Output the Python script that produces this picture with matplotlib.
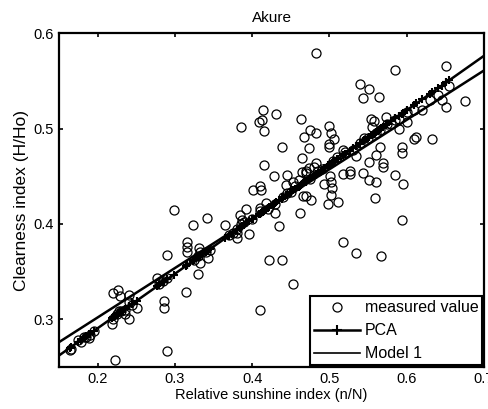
import numpy as np
import matplotlib
matplotlib.use("Agg")
import matplotlib.pyplot as plt
from matplotlib.lines import Line2D

plt.rcParams['font.family'] = ['Liberation Sans', 'DejaVu Sans']

# measured values scattered away from the fitted lines
sun_off = [0.4827, 0.651, 0.585, 0.539, 0.5515, 0.543, 0.5645, 0.676, 0.645, 0.651,
           0.414, 0.431, 0.413, 0.409, 0.386, 0.4147, 0.4636, 0.499, 0.475, 0.482,
           0.5017, 0.4675, 0.5065, 0.500, 0.4996, 0.5537, 0.557, 0.555, 0.573, 0.585,
           0.6004, 0.5896, 0.594, 0.594, 0.595, 0.594, 0.609, 0.6126, 0.633, 0.585,
           0.565, 0.5597, 0.5693, 0.5697, 0.5506, 0.5429, 0.5515, 0.5597, 0.5584, 0.526,
           0.526, 0.518, 0.518, 0.534, 0.5104, 0.4987, 0.502, 0.503, 0.5017, 0.5009,
           0.4935, 0.518, 0.5346, 0.567, 0.4532, 0.41, 0.438, 0.4217, 0.4346, 0.4619,
           0.428, 0.439, 0.4147, 0.4645, 0.474, 0.482, 0.476, 0.466, 0.469, 0.473,
           0.469, 0.464, 0.4532, 0.4446, 0.4437, 0.4013, 0.41, 0.4108, 0.4177, 0.4299,
           0.4095, 0.3926, 0.3848, 0.3874, 0.3961, 0.3805, 0.3797, 0.365, 0.3416, 0.2983,
           0.3238, 0.3156, 0.3156, 0.3156, 0.3312, 0.332, 0.3429, 0.332, 0.3303, 0.3147,
           0.29, 0.277, 0.2857, 0.2857, 0.29, 0.2225, 0.22, 0.2268, 0.229, 0.2403,
           0.2411, 0.2506, 0.2182, 0.2355, 0.2281, 0.189, 0.1827, 0.164]
clear_off = [0.579, 0.566, 0.5615, 0.5465, 0.542, 0.532, 0.533, 0.529, 0.530, 0.523,
             0.519, 0.5154, 0.509, 0.507, 0.502, 0.4976, 0.5098, 0.5024, 0.4986, 0.4958,
             0.495, 0.4913, 0.4888, 0.4839, 0.4804, 0.5105, 0.5084, 0.502, 0.5126, 0.509,
             0.5073, 0.4993, 0.481, 0.4748, 0.442, 0.4035, 0.4888, 0.491, 0.4888, 0.4517,
             0.481, 0.4727, 0.4636, 0.4601, 0.4654, 0.4538, 0.4458, 0.4444, 0.4276, 0.4556,
             0.452, 0.4524, 0.477, 0.4713, 0.4234, 0.421, 0.430, 0.4374, 0.444, 0.4497,
             0.442, 0.3811, 0.3692, 0.3657, 0.337, 0.3098, 0.3622, 0.3622, 0.3972, 0.4112,
             0.4497, 0.481, 0.4619, 0.4696, 0.4794, 0.4636, 0.4252, 0.4287, 0.4287, 0.4587,
             0.4531, 0.4549, 0.4444, 0.4514, 0.4409, 0.4357, 0.4392, 0.4357, 0.4217, 0.4112,
             0.4171, 0.4154, 0.4094, 0.4042, 0.3895, 0.385, 0.3902, 0.3986, 0.4059, 0.414,
             0.3986, 0.3808, 0.3755, 0.3703, 0.3745, 0.370, 0.364, 0.3587, 0.3476, 0.328,
             0.3675, 0.343, 0.3185, 0.3115, 0.2661, 0.2566, 0.3273, 0.3308, 0.3245, 0.3255,
             0.300, 0.3115, 0.2951, 0.3052, 0.308, 0.280, 0.2808, 0.2671]

# measured values lying on / close to the fitted lines
sun_on = [0.165, 0.175, 0.178, 0.185, 0.19, 0.195, 0.22, 0.225, 0.23, 0.235,
          0.24, 0.245, 0.28, 0.285, 0.29, 0.325, 0.33, 0.34, 0.345, 0.37,
          0.375, 0.38, 0.385, 0.39, 0.40, 0.41, 0.42, 0.43, 0.44, 0.445,
          0.45, 0.455, 0.46, 0.47, 0.475, 0.48, 0.485, 0.49, 0.505, 0.51,
          0.52, 0.53, 0.54, 0.545, 0.55, 0.56, 0.565, 0.575, 0.58, 0.59,
          0.60, 0.61, 0.62, 0.63, 0.64, 0.655]
clear_on = [0.269, 0.278, 0.276, 0.281, 0.283, 0.287, 0.300, 0.305, 0.308, 0.310,
            0.318, 0.315, 0.337, 0.340, 0.343, 0.362, 0.366, 0.370, 0.373, 0.388,
            0.390, 0.395, 0.400, 0.402, 0.405, 0.413, 0.416, 0.421, 0.428, 0.432,
            0.433, 0.440, 0.446, 0.455, 0.447, 0.460, 0.455, 0.458, 0.466, 0.470,
            0.475, 0.478, 0.485, 0.490, 0.490, 0.495, 0.498, 0.505, 0.505, 0.510,
            0.517, 0.520, 0.520, 0.530, 0.535, 0.545]

sunshine = np.array(sun_off + sun_on)
clearness = np.array(clear_off + clear_on)

# fitted relations
pca_intercept, pca_slope = 0.176, 0.572
line_x = [0.15, 0.70]
model1_y = [0.2758, 0.561]

fig = plt.figure(figsize=(4.89, 4.09), dpi=100)
ax = fig.add_axes([0.1207, 0.1034, 0.8691, 0.8152])

ax.plot(sunshine, clearness, 'o', mfc='none', mec='k', ms=6.5, mew=0.9)
lx = np.array(line_x)
ax.plot(lx, pca_intercept + pca_slope * lx, 'k-', lw=1.8)
xs = np.sort(sunshine[sunshine < 0.665])
ax.plot(xs, pca_intercept + pca_slope * xs, 'k+', ms=6, mew=1.5)
ax.plot(line_x, model1_y, 'k-', lw=1.8)

ax.set_xlim(0.15, 0.70)
ax.set_ylim(0.25, 0.60)
ax.set_xticks([0.2, 0.3, 0.4, 0.5, 0.6, 0.7])
ax.set_xticklabels(['0.2', '0.3', '0.4', '0.5', '0.6', '0.7'])
ax.set_yticks([0.3, 0.4, 0.5, 0.6])
ax.set_yticklabels(['0.3', '0.4', '0.5', '0.6'])
ax.tick_params(direction='in', top=True, right=True, length=3, width=1.2,
               labelsize=10.5, pad=4)
for s in ax.spines.values():
    s.set_linewidth(1.6)

ax.set_xlabel('Relative sunshine index (n/N)', fontsize=10.5, labelpad=1)
ax.set_ylabel('Clearness index (H/Ho)', fontsize=12.5, labelpad=3)
ax.set_title('Akure', fontsize=11, pad=8)

handles = [Line2D([], [], ls='none', marker='o', mfc='none', mec='k', ms=6.5, mew=0.9),
           Line2D([], [], color='k', lw=1.8, marker='+', ms=7, mew=1.5),
           Line2D([], [], color='k', lw=1.2)]
leg = ax.legend(handles, ['measured value', 'PCA', 'Model 1'], loc='lower right',
                fontsize=11.5, fancybox=False, framealpha=1, edgecolor='k',
                borderaxespad=0.1, handlelength=2.9, labelspacing=0.5,
                borderpad=0.25, handletextpad=0.3)
leg.get_frame().set_linewidth(1.5)

fig.savefig('out.png', dpi=100)
